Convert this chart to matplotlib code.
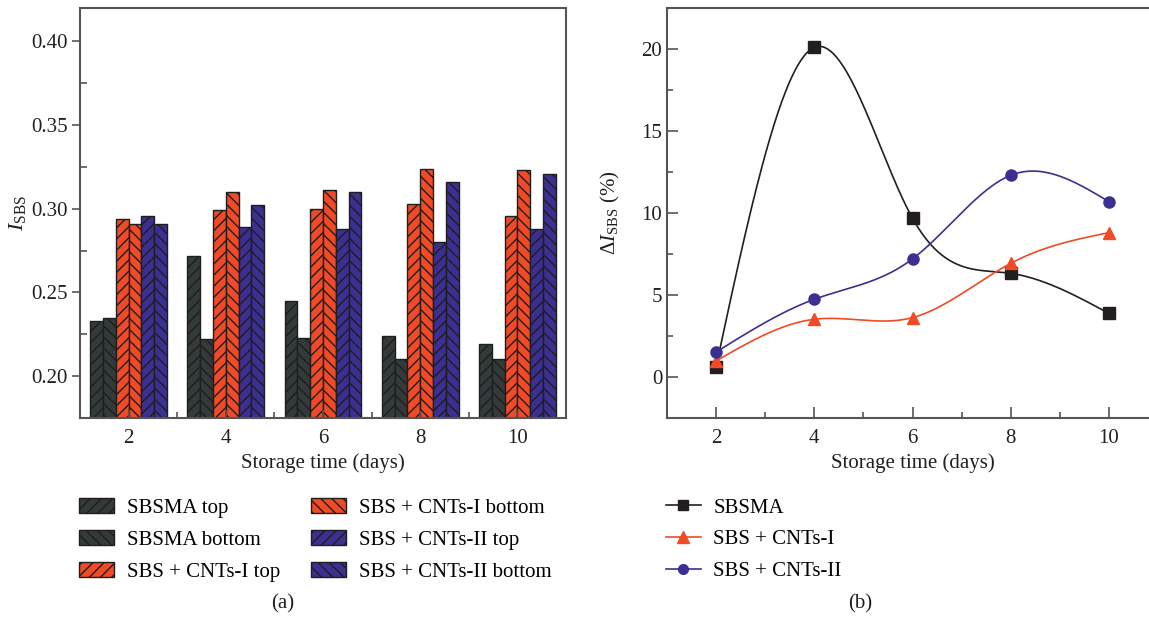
import numpy as np
import matplotlib
matplotlib.use('Agg')
import matplotlib.pyplot as plt
from matplotlib.ticker import MultipleLocator

plt.rcParams['font.family'] = ['Liberation Serif', 'DejaVu Serif']
plt.rcParams['mathtext.fontset'] = 'custom'
plt.rcParams['mathtext.rm'] = 'Liberation Serif'
plt.rcParams['mathtext.it'] = 'Liberation Serif:italic'
plt.rcParams['hatch.linewidth'] = 1.0

# data
days = [2, 4, 6, 8, 10]
bar_labels = ['SBSMA top', 'SBSMA bottom', 'SBS + CNTs-I top',
              'SBS + CNTs-I bottom', 'SBS + CNTs-II top', 'SBS + CNTs-II bottom']
sbsma_top = [0.233, 0.272, 0.245, 0.224, 0.219]
sbsma_bottom = [0.235, 0.222, 0.223, 0.210, 0.210]
cnt1_top = [0.294, 0.299, 0.300, 0.303, 0.296]
cnt1_bottom = [0.291, 0.310, 0.311, 0.324, 0.323]
cnt2_top = [0.296, 0.289, 0.288, 0.280, 0.288]
cnt2_bottom = [0.291, 0.302, 0.310, 0.316, 0.321]

line_labels = ['SBSMA', 'SBS + CNTs-I', 'SBS + CNTs-II']
d_sbsma = [0.63, 20.1, 9.68, 6.32, 3.88]
d_cnt1 = [0.98, 3.52, 3.62, 6.93, 8.80]
d_cnt2 = [1.52, 4.74, 7.20, 12.3, 10.69]

gray = '#343a3a'
orange = '#f04a26'
blue = '#3b2f91'
edge = '#1e1e1e'


def natural_spline(x, y, n=300):
    # smooth connecting curve (like Origin's spline line), data stay the 5 points
    x = np.asarray(x, float)
    y = np.asarray(y, float)
    k = len(x)
    h = np.diff(x)
    A = np.zeros((k, k))
    r = np.zeros(k)
    A[0, 0] = 1
    A[-1, -1] = 1
    for i in range(1, k - 1):
        A[i, i - 1] = h[i - 1]
        A[i, i] = 2 * (h[i - 1] + h[i])
        A[i, i + 1] = h[i]
        r[i] = 6 * ((y[i + 1] - y[i]) / h[i] - (y[i] - y[i - 1]) / h[i - 1])
    m = np.linalg.solve(A, r)
    xs = np.linspace(x[0], x[-1], n)
    idx = np.clip(np.searchsorted(x, xs) - 1, 0, k - 2)
    t0 = x[idx]
    t1 = x[idx + 1]
    hh = h[idx]
    ys = (m[idx] * (t1 - xs) ** 3 / (6 * hh) + m[idx + 1] * (xs - t0) ** 3 / (6 * hh)
          + (y[idx] / hh - m[idx] * hh / 6) * (t1 - xs)
          + (y[idx + 1] / hh - m[idx + 1] * hh / 6) * (xs - t0))
    return xs, ys


fig = plt.figure(figsize=(11.49, 6.18), dpi=100)

# ---- (a) bars
ax1 = fig.add_axes([80 / 1149, 200 / 618, 486 / 1149, 410 / 618])
series = [sbsma_top, sbsma_bottom, cnt1_top, cnt1_bottom, cnt2_top, cnt2_bottom]
colors = [gray, gray, orange, orange, blue, blue]
hatches = ['///', '\\\\\\', '///', '\\\\\\', '///', '\\\\\\']
w = 0.263
x = np.array(days, float)
handles = []
for i, vals in enumerate(series):
    b = ax1.bar(x + (i - 2.5) * w, vals, width=w, color=colors[i], edgecolor=edge,
                hatch=hatches[i], linewidth=1.0, label=bar_labels[i])
    handles.append(b)

ax1.set_xlim(1.0, 11.0)
ax1.set_ylim(0.175, 0.42)
ax1.set_xticks(days)
ax1.xaxis.set_minor_locator(MultipleLocator(1))
ax1.yaxis.set_major_locator(MultipleLocator(0.05))
ax1.yaxis.set_minor_locator(MultipleLocator(0.025))
ax1.yaxis.set_major_formatter(matplotlib.ticker.FormatStrFormatter('%.2f'))
ax1.tick_params(axis='y', which='major', direction='out', length=6, width=1.2,
                color='#555555', labelsize=15, labelcolor='#231f20', pad=3)
ax1.tick_params(axis='y', which='minor', direction='in', length=5, width=1.2, color='#555555')
ax1.tick_params(axis='x', which='major', direction='in', length=6, width=1.2,
                color='#555555', labelsize=15, labelcolor='#231f20', pad=8)
ax1.tick_params(axis='x', which='minor', direction='in', length=4, width=1.2, color='#555555')
for s in ax1.spines.values():
    s.set_color('#555555')
    s.set_linewidth(1.5)
ax1.set_xlabel('Storage time (days)', fontsize=15, color='#231f20', labelpad=4)
ax1.set_ylabel(r'$I_{\mathrm{SBS}}$', fontsize=16, color='#231f20', labelpad=2)

ax1.legend(handles=handles, loc='upper left', bbox_to_anchor=(-0.02, -0.175), ncol=2,
           frameon=False, fontsize=15, handlelength=1.7, handleheight=0.75,
           handletextpad=0.6, columnspacing=1.5, labelspacing=0.58, borderaxespad=0)

# ---- (b) lines
ax2 = fig.add_axes([667 / 1149, 200 / 618, 491 / 1149, 410 / 618])
line_data = [d_sbsma, d_cnt1, d_cnt2]
lcolors = ['#231f20', orange, blue]
markers = ['s', '^', 'o']
msizes = [8, 9, 8]
for vals, c, mk, ms, lab in zip(line_data, lcolors, markers, msizes, line_labels):
    xs, ys = natural_spline(days, vals)
    ax2.plot(xs, ys, color=c, lw=1.2)
    ax2.plot(days, vals, linestyle='none', marker=mk, markersize=ms, color=c)
    ax2.plot([], [], color=c, lw=1.2, marker=mk, markersize=ms - 1, label=lab)

ax2.set_xlim(1.0, 11.0)
ax2.set_ylim(-2.5, 22.5)
ax2.set_xticks(days)
ax2.xaxis.set_minor_locator(MultipleLocator(1))
ax2.yaxis.set_major_locator(MultipleLocator(5))
ax2.yaxis.set_minor_locator(MultipleLocator(2.5))
ax2.tick_params(which='major', direction='in', length=8, width=1.2, color='#555555',
                labelsize=15, labelcolor='#231f20')
ax2.tick_params(which='minor', direction='in', length=4, width=1.2, color='#555555')
ax2.tick_params(axis='x', which='major', pad=8)
for s in ax2.spines.values():
    s.set_color('#555555')
    s.set_linewidth(1.5)
ax2.set_xlabel('Storage time (days)', fontsize=15, color='#231f20', labelpad=4)
ax2.set_ylabel(r'$\Delta I_{\mathrm{SBS}}$ (%)', fontsize=15, color='#231f20', labelpad=14)
h2, l2 = ax2.get_legend_handles_labels()
ax2.legend(h2, l2, loc='upper left', bbox_to_anchor=(-0.02, -0.175), frameon=False,
           fontsize=15, handlelength=1.7, handletextpad=0.6, labelspacing=0.58,
           borderaxespad=0)

fig.text(283 / 1149, 1 - 604 / 618, '(a)', fontsize=15, ha='center', va='center', color='#231f20')
fig.text(860 / 1149, 1 - 604 / 618, '(b)', fontsize=15, ha='center', va='center', color='#231f20')

fig.savefig('out.png', dpi=100)
